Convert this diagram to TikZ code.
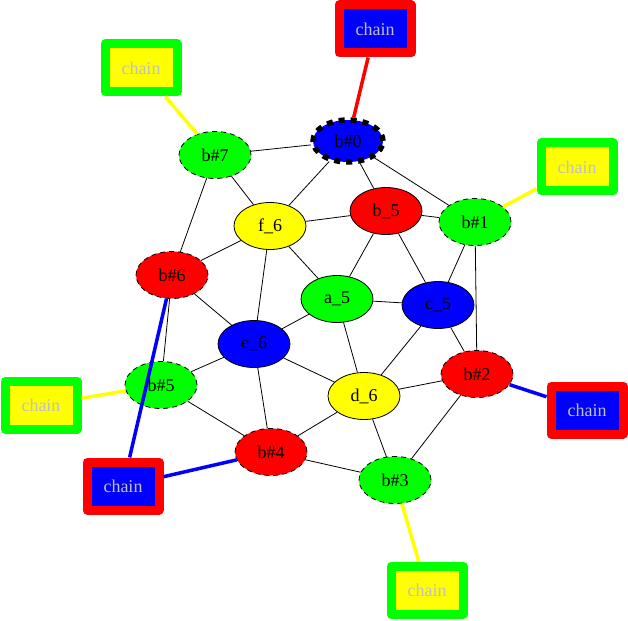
\documentclass[tikz,border=0pt]{standalone}
\usepackage{xcolor}
\usepackage{fontspec}
\setmainfont{Liberation Serif}
\usepackage{tikz}
\usetikzlibrary{shapes.geometric}
\definecolor{gblue}{HTML}{0000FF}
\definecolor{gred}{HTML}{FF0000}
\definecolor{ggreen}{HTML}{00FF00}
\definecolor{gyellow}{HTML}{FFFF00}
\definecolor{ggray}{HTML}{C0C0C0}

\begin{document}
\begin{tikzpicture}[x=1pt, y=-1pt,
  core/.style={ellipse, draw=black, line width=0.8pt, minimum width=72pt, minimum height=47pt, inner sep=0pt, font=\fontsize{18}{20}\selectfont},
  bnode/.style={core, dash pattern=on 5pt off 4pt},
  bzero/.style={core, line width=5.5pt, dash pattern=on 6pt off 6pt, minimum width=70pt, minimum height=42pt},
  chainbox/.style={rectangle, line width=9pt, line join=round, minimum width=72pt, minimum height=48pt, inner sep=0pt, text=ggray, font=\fontsize{18}{20}\selectfont},
  redchain/.style={chainbox, draw=gred, fill=gblue},
  greenchain/.style={chainbox, draw=ggreen, fill=gyellow},
  edge/.style={line width=0.8pt},
  link/.style={line width=3.5pt},
]
  \useasboundingbox (0,0) rectangle (628,620);
  % graph nodes
  \node[bzero, fill=gblue] (b0) at (348,141) {b\#0};
  \node[bnode, fill=ggreen] (b7) at (215,155) {b\#7};
  \node[core, fill=gyellow] (f6) at (270,226) {f\_6};
  \node[core, fill=gred] (b5) at (386,211) {b\_5};
  \node[bnode, fill=ggreen] (b1) at (475,222) {b\#1};
  \node[bnode, fill=gred] (b6) at (172,275) {b\#6};
  \node[core, fill=ggreen] (a5) at (337,299) {a\_5};
  \node[core, fill=gblue] (c5) at (438,305) {c\_5};
  \node[core, fill=gblue] (e6) at (254,344) {e\_6};
  \node[bnode, fill=ggreen] (bb5) at (161,385) {b\#5};
  \node[core, fill=gyellow] (d6) at (364,396) {d\_6};
  \node[bnode, fill=gred] (b2) at (477,374) {b\#2};
  \node[bnode, fill=gred] (b4) at (271,452) {b\#4};
  \node[bnode, fill=ggreen] (b3) at (395,480) {b\#3};
  % chain boxes
  \node[redchain] (ch0) at (375,29) {chain};
  \node[greenchain] (ch7) at (141,68) {chain};
  \node[greenchain] (ch1) at (577,167) {chain};
  \node[greenchain] (ch5) at (41,405) {chain};
  \node[redchain] (ch2) at (587,410) {chain};
  \node[redchain] (ch64) at (123,486) {chain};
  \node[greenchain] (ch3) at (427,590) {chain};
  % black edges
  \draw[edge] (b0) -- (b7);
  \draw[edge] (b0) -- (f6);
  \draw[edge] (b0) -- (b5);
  \draw[edge] (b0) -- (b1);
  \draw[edge] (b7) -- (f6);
  \draw[edge] (b7) -- (b6);
  \draw[edge] (f6) -- (b5);
  \draw[edge] (f6) -- (b6);
  \draw[edge] (f6) -- (a5);
  \draw[edge] (f6) -- (e6);
  \draw[edge] (b5) -- (b1);
  \draw[edge] (b5) -- (a5);
  \draw[edge] (b5) -- (c5);
  \draw[edge] (b1) -- (c5);
  \draw[edge] (b1) -- (b2);
  \draw[edge] (b6) -- (e6);
  \draw[edge] (b6) -- (bb5);
  \draw[edge] (a5) -- (c5);
  \draw[edge] (a5) -- (e6);
  \draw[edge] (a5) -- (d6);
  \draw[edge] (c5) -- (d6);
  \draw[edge] (c5) -- (b2);
  \draw[edge] (e6) -- (bb5);
  \draw[edge] (e6) -- (b4);
  \draw[edge] (e6) -- (d6);
  \draw[edge] (d6) -- (b2);
  \draw[edge] (d6) -- (b4);
  \draw[edge] (d6) -- (b3);
  \draw[edge] (b2) -- (b3);
  \draw[edge] (b4) -- (b3);
  \draw[edge] (b4) -- (bb5);
  % chain links
  \draw[link, gred] (ch0) -- (b0);
  \draw[link, gyellow] (ch7) -- (b7);
  \draw[link, gyellow] (ch1) -- (b1);
  \draw[link, gyellow] (ch5) -- (bb5);
  \draw[link, gblue] (ch2) -- (b2);
  \draw[link, gblue] (ch64) -- (b6);
  \draw[link, gblue] (ch64) -- (b4);
  \draw[link, gyellow] (ch3) -- (b3);
\end{tikzpicture}
\end{document}
